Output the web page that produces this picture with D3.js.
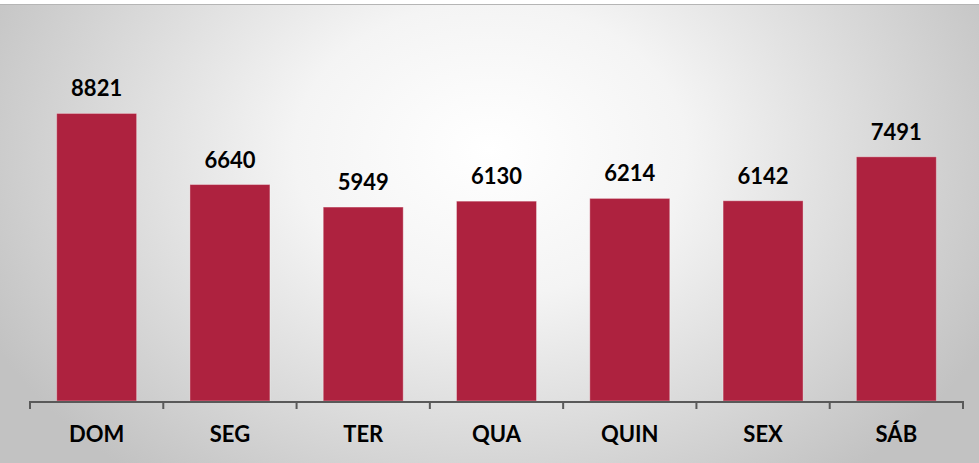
<!DOCTYPE html>
<html><head><meta charset="utf-8">
<script src="https://cdn.jsdelivr.net/npm/d3@7"></script>
<style>html,body{margin:0;padding:0;background:#fff;}svg{display:block;}</style>
</head><body>
<svg id="c" width="979" height="463"></svg>
<script>
const categories = ["DOM","SEG","TER","QUA","QUIN","SEX","SÁB"];
const values = [8821,6640,5949,6130,6214,6142,7491];

const W = 979, H = 463;
const svg = d3.select("#c");
const defs = svg.append("defs");
const rg = defs.append("radialGradient").attr("id","bg")
  .attr("gradientUnits","userSpaceOnUse")
  .attr("cx",490).attr("cy",150).attr("r",560)
  .attr("gradientTransform","translate(490,150) scale(1,0.75) translate(-490,-150)");
rg.append("stop").attr("offset","0").attr("stop-color","#ffffff");
rg.append("stop").attr("offset","0.35").attr("stop-color","#f4f4f4");
rg.append("stop").attr("offset","1").attr("stop-color","#c2c2c2");

svg.append("rect").attr("x",0).attr("y",4).attr("width",W).attr("height",H-4).attr("fill","url(#bg)");
svg.append("line").attr("x1",0).attr("x2",W).attr("y1",4.5).attr("y2",4.5).attr("stroke","#b5b5b5").attr("stroke-width",1);

const x = d3.scaleBand().domain(categories).range([30,963]).paddingInner(0.4).paddingOuter(0.2);
const y = d3.scaleLinear().domain([0,10000]).range([401,75]);

svg.append("g").selectAll("rect").data(values).join("rect")
  .attr("x",(d,i)=>x(categories[i]))
  .attr("y",d=>y(d))
  .attr("width",x.bandwidth())
  .attr("height",d=>y(0)-y(d))
  .attr("fill","#ae223f")
  .attr("stroke","rgba(255,255,255,0.35)")
  .attr("stroke-width",1);

svg.append("g").selectAll("text").data(values).join("text")
  .attr("x",(d,i)=>x(categories[i])+x.bandwidth()/2)
  .attr("y",d=>y(d)-17)
  .attr("text-anchor","middle")
  .attr("font-family","Lato, 'Open Sans', sans-serif")
  .attr("font-weight","bold")
  .attr("font-size","22px")
  .attr("fill","#000")
  .text(d=>d);

const xAxis = d3.axisBottom(x).tickSize(0).tickPadding(0);
const ax = svg.append("g").attr("transform","translate(0,402)");
ax.append("line").attr("x1",30).attr("x2",963).attr("y1",0).attr("y2",0).attr("stroke","#595959").attr("stroke-width",2);
const step = x.step();
const tickPos = d3.range(categories.length+1).map(i=>30+i*step);
ax.selectAll("line.tk").data(tickPos).join("line").attr("class","tk")
  .attr("x1",d=>d).attr("x2",d=>d).attr("y1",-1).attr("y2",7)
  .attr("stroke","#595959").attr("stroke-width",2);

const axg = svg.append("g").attr("transform","translate(0,442)").call(xAxis);
axg.select(".domain").remove();
axg.selectAll("text")
  .attr("dy",0).attr("y",0)
  .attr("font-family","Lato, 'Open Sans', sans-serif")
  .attr("font-weight","bold")
  .attr("font-size","22px")
  .attr("fill","#000");
</script>
</body></html>
